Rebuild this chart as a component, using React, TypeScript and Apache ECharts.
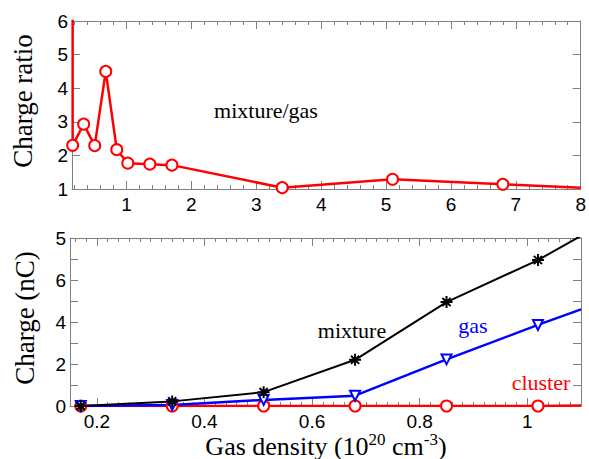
import React, { useEffect, useRef } from "react";
import * as echarts from "echarts";

// ---- Data ----
const ratioX = [0.17, 0.34, 0.51, 0.68, 0.85, 1.02, 1.36, 1.7, 3.4, 5.1, 6.8];
const ratioY = [2.3, 2.93, 2.29, 4.5, 2.17, 1.77, 1.74, 1.71, 1.04, 1.29, 1.14];
const ratioLead = [0.17, 6.6]; // line leaving through the top at the left edge
const ratioTail = [8, 1.04];

const densX = [0.17, 0.34, 0.51, 0.68, 0.85, 1.02];
const mixture = [0, 0.22, 0.66, 2.2, 4.95, 6.95];
const gas = [0, 0.05, 0.29, 0.49, 2.22, 3.86];
const cluster = [0, 0, 0, 0, 0, 0];
const tailX = 1.1;
const mixtureTail = 8.1;
const gasTail = 4.6;
const clusterTail = 0.02;

const topYTicks = [1, 2, 3, 4, 5, 6];
const bottomYLabels: Record<number, string> = { 0: "0", 2: "2", 4: "4", 6: "6", 8: "5" };

const AX = "#808080";
const SANS = "'Liberation Sans', Arial, Helvetica, sans-serif";
const SERIF = "'Liberation Serif', 'Times New Roman', Times, serif";
const ASTER = "path://M5,0L5,10M0,5L10,5M1.6,1.6L8.4,8.4M1.6,8.4L8.4,1.6";

function near(v: number, step: number) {
  return Math.abs(v / step - Math.round(v / step)) < 1e-6;
}

function xAx(
  grid: number,
  pos: "bottom" | "top",
  min: number,
  max: number,
  step: number,
  major: boolean,
  labels: boolean,
  fmt?: (v: number) => string
) {
  return {
    type: "value",
    gridIndex: grid,
    position: pos,
    min,
    max,
    minInterval: step,
    maxInterval: step,
    splitLine: { show: false },
    axisLine: { show: major, onZero: false, lineStyle: { color: AX, width: 1 } },
    axisTick: { show: true, inside: true, length: major ? 8 : 4, lineStyle: { color: AX, width: 1 } },
    axisLabel: {
      show: labels,
      color: "#000",
      fontFamily: SANS,
      fontSize: 19,
      lineHeight: 19,
      margin: 6,
      formatter: fmt,
    },
  };
}

function yAx(grid: number, pos: "left" | "right", min: number, max: number, labels: boolean, fmt?: (v: number) => string) {
  return {
    type: "value",
    gridIndex: grid,
    position: pos,
    min,
    max,
    interval: 1,
    splitLine: { show: false },
    axisLine: { show: true, onZero: false, lineStyle: { color: AX, width: 1 } },
    axisTick: { show: true, inside: true, length: 8, lineStyle: { color: AX, width: 1 } },
    axisLabel: {
      show: labels,
      color: "#000",
      fontFamily: SANS,
      fontSize: 19,
      margin: 4,
      formatter: fmt,
    },
  };
}

export default function App() {
  const ref = useRef<HTMLDivElement>(null);
  useEffect(() => {
    if (!ref.current) return;
    const chart = echarts.init(ref.current, undefined, { renderer: "svg" });

    const topFmt = (v: number) => (near(v, 1) && v >= 1 ? String(Math.round(v)) : "");
    const botFmt = (v: number) => {
      if (!near(v, 0.2) || v < 0.19) return "";
      const r = Math.round(v * 10) / 10;
      return r === 1 ? "1" : r.toFixed(1);
    };
    const botYFmt = (v: number) => bottomYLabels[Math.round(v)] ?? "";

    const ratioData: any[] = [
      { value: ratioLead, symbol: "none" },
      ...ratioX.map((x, i) => [x, ratioY[i]]),
      { value: ratioTail, symbol: "none" },
    ];
    const mk = (ys: number[], tail: number) => [
      ...densX.map((x, i) => [x, ys[i]]),
      { value: [tailX, tail], symbol: "none" },
    ];

    chart.setOption({
      animation: false,
      backgroundColor: "#fff",
      grid: [
        { left: 72, right: 7, top: 21, height: 168, containLabel: false },
        { left: 70, right: 8, top: 238, height: 168, containLabel: false },
      ],
      xAxis: [
        xAx(0, "bottom", 0.16, 8, 1, true, true, topFmt),
        xAx(0, "bottom", 0.16, 8, 0.2, false, false),
        xAx(0, "top", 0.16, 8, 1, true, false),
        xAx(0, "top", 0.16, 8, 0.2, false, false),
        xAx(1, "bottom", 0.15, 1.1, 0.2, true, true, botFmt),
        xAx(1, "bottom", 0.15, 1.1, 0.02, false, false),
        xAx(1, "top", 0.15, 1.1, 0.2, true, false),
        xAx(1, "top", 0.15, 1.1, 0.02, false, false),
      ],
      yAxis: [
        yAx(0, "left", topYTicks[0], topYTicks[topYTicks.length - 1], true),
        yAx(0, "right", topYTicks[0], topYTicks[topYTicks.length - 1], false),
        yAx(1, "left", 0, 8, true, botYFmt),
        yAx(1, "right", 0, 8, false),
      ],
      series: [
        {
          type: "line",
          xAxisIndex: 0,
          yAxisIndex: 0,
          data: ratioData,
          clip: true,
          symbol: "emptyCircle",
          symbolSize: 11,
          lineStyle: { color: "#ff0000", width: 2.5 },
          itemStyle: { color: "#ff0000", borderColor: "#ff0000", borderWidth: 2 },
        },
        {
          type: "line",
          xAxisIndex: 4,
          yAxisIndex: 2,
          data: mk(cluster, clusterTail),
          clip: true,
          symbol: "emptyCircle",
          symbolSize: 11,
          lineStyle: { color: "#ff0000", width: 2.5 },
          itemStyle: { color: "#ff0000", borderColor: "#ff0000", borderWidth: 2 },
        },
        {
          type: "line",
          xAxisIndex: 4,
          yAxisIndex: 2,
          data: mk(gas, gasTail),
          clip: true,
          symbol: "emptyTriangle",
          symbolRotate: 180,
          symbolSize: 10,
          lineStyle: { color: "#0000ff", width: 2.5 },
          itemStyle: { color: "#0000ff", borderColor: "#0000ff", borderWidth: 2 },
        },
        {
          type: "line",
          xAxisIndex: 4,
          yAxisIndex: 2,
          data: mk(mixture, mixtureTail),
          clip: true,
          symbol: ASTER,
          symbolSize: 12,
          lineStyle: { color: "#000", width: 2 },
          itemStyle: { color: "#000", borderColor: "#000", borderWidth: 2 },
        },
      ],
      graphic: [
        {
          type: "text",
          x: 23,
          y: 101,
          rotation: Math.PI / 2,
          style: { text: "Charge ratio", fontFamily: SERIF, fontSize: 27, fill: "#000", align: "center", verticalAlign: "middle" },
        },
        {
          type: "text",
          x: 25,
          y: 318,
          rotation: Math.PI / 2,
          style: { text: "Charge (nC)", fontFamily: SERIF, fontSize: 27, fill: "#000", align: "center", verticalAlign: "middle" },
        },
        {
          type: "text",
          x: 266,
          y: 110,
          style: { text: "mixture/gas", fontFamily: SERIF, fontSize: 22, fill: "#000", align: "center", verticalAlign: "middle" },
        },
        {
          type: "text",
          x: 352,
          y: 330,
          style: { text: "mixture", fontFamily: SERIF, fontSize: 22, fill: "#000", align: "center", verticalAlign: "middle" },
        },
        {
          type: "text",
          x: 473,
          y: 325,
          style: { text: "gas", fontFamily: SERIF, fontSize: 22, fill: "#0000ff", align: "center", verticalAlign: "middle" },
        },
        {
          type: "text",
          x: 541,
          y: 382,
          style: { text: "cluster", fontFamily: SERIF, fontSize: 22, fill: "#ff0000", align: "center", verticalAlign: "middle" },
        },
        {
          type: "text",
          x: 326,
          y: 445,
          style: {
            text: "{m|Gas density (10}{s|20}{m| cm}{s|-3}{m|)}",
            fontFamily: SERIF,
            fill: "#000",
            align: "center",
            verticalAlign: "middle",
            rich: {
              m: { fontFamily: SERIF, fontSize: 26, fill: "#000", verticalAlign: "bottom", lineHeight: 28 },
              s: { fontFamily: SERIF, fontSize: 17, fill: "#000", verticalAlign: "top", lineHeight: 28 },
            },
          },
        },
      ],
    });
    return () => chart.dispose();
  }, []);
  return <div ref={ref} style={{ position: "absolute", left: 0, top: 0, width: 589, height: 459 }} />;
}
